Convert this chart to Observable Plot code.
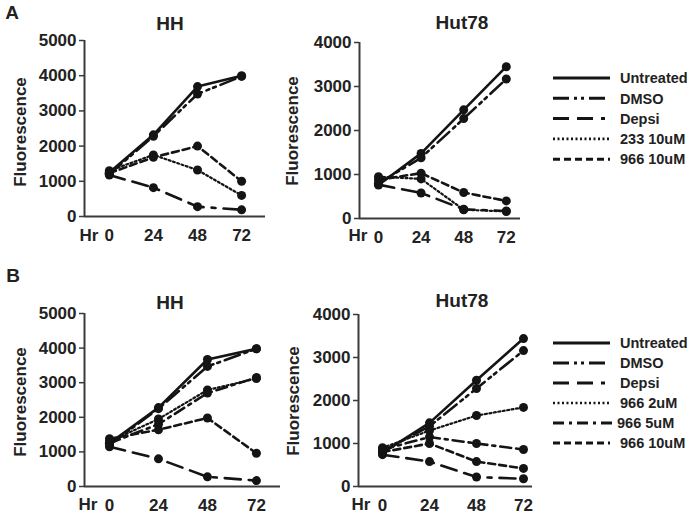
<!DOCTYPE html>
<html><head><meta charset="utf-8">
<script src="https://cdn.jsdelivr.net/npm/d3@7"></script>
<script src="https://cdn.jsdelivr.net/npm/@observablehq/plot@0.6"></script>
<style>
body{margin:0;background:#fff;}
#wrap{position:relative;width:692px;height:515px;overflow:hidden;font-family:"Liberation Sans",Arial,sans-serif;font-weight:bold;color:#222;background:#fff;}
.panel{position:absolute;}
.lbl{position:absolute;transform:translate(-50%,-50%);white-space:nowrap;font-weight:bold;line-height:1;}
</style></head><body><div id="wrap"></div>
<script>
// ---- data ----
const hours = [0, 24, 48, 72];
const hourLabels = ["0", "24", "48", "72"];
const seriesA = ["Untreated", "DMSO", "Depsi", "233 10uM", "966 10uM"];
const seriesB = ["Untreated", "DMSO", "Depsi", "966 2uM", "966 5uM", "966 10uM"];
// panel A, HH (rows follow seriesA)
const aHH = [
  [1250, 2320, 3690, 4000],
  [1200, 2280, 3480, 3980],
  [1180, 820, 280, 190],
  [1300, 1750, 1320, 600],
  [1230, 1680, 2000, 1000]
];
// panel A, Hut78
const aHut = [
  [760, 1480, 2470, 3450],
  [800, 1380, 2270, 3170],
  [770, 580, 210, 170],
  [950, 900, 200, 160],
  [880, 1030, 590, 400]
];
// panel B, HH (rows follow seriesB)
const bHH = [
  [1250, 2280, 3670, 3980],
  [1200, 2250, 3470, 3980],
  [1150, 800, 280, 170],
  [1300, 1950, 2790, 3120],
  [1250, 1800, 2700, 3150],
  [1380, 1640, 1980, 960]
];
// panel B, Hut78
const bHut = [
  [780, 1480, 2470, 3440],
  [820, 1400, 2280, 3160],
  [740, 580, 220, 180],
  [900, 1300, 1650, 1840],
  [860, 1150, 1000, 860],
  [800, 1000, 580, 420]
];

// ---- styles ----
const dashOf = {
  "Untreated": null,
  "DMSO": "16,5,3,4,3,5",
  "Depsi": "16,8,16,8,4,8",
  "233 10uM": "2,2.5",
  "966 2uM": "2,2.5",
  "966 5uM": "11,5,3,5",
  "966 10uM": "7,4"
};
const widthOf = s => (dashOf[s] === "2,2.5" ? 2.2 : 2.6);
const INK = "#141414";
const AXIS = "#3a3a3a";

const wrap = document.getElementById("wrap");

function makePanel(cfg) {
  const rows = cfg.names.flatMap((s, i) => hours.map((h, j) => ({series: s, hour: h, value: cfg.values[i][j]})));
  const marks = [
    Plot.ruleY([0], {stroke: AXIS, strokeWidth: 2}),
    Plot.ruleX([cfg.xDomain[0]], {y1: 0, y2: cfg.yMax, stroke: AXIS, strokeWidth: 2}),
    Plot.axisY({ticks: d3.range(0, cfg.yMax + 1, 1000), tickFormat: d => String(d), tickSize: 5, tickPadding: 3, label: null, stroke: AXIS, strokeWidth: 1.5, fontSize: 17, fontWeight: "bold", fill: "#222"}),
    Plot.axisX({ticks: hours, tickFormat: d => hourLabels[hours.indexOf(d)], tickSize: 0, tickPadding: cfg.xPad, label: null, fontSize: 17, fontWeight: "bold", fill: "#222"})
  ];
  cfg.names.forEach(s => {
    const opts = {x: "hour", y: "value", stroke: INK, strokeWidth: widthOf(s)};
    if (dashOf[s]) opts.strokeDasharray = dashOf[s];
    marks.push(Plot.line(rows.filter(r => r.series === s), opts));
    marks.push(Plot.dot(rows.filter(r => r.series === s), {x: "hour", y: "value", r: 4.5, fill: INK, stroke: "none"}));
  });
  const svg = Plot.plot({
    width: cfg.width, height: cfg.height,
    marginLeft: cfg.ml, marginRight: cfg.mr, marginTop: cfg.mt, marginBottom: cfg.mb,
    x: {domain: cfg.xDomain},
    y: {domain: [0, cfg.yMax]},
    style: {fontFamily: "'Liberation Sans', Arial, sans-serif", fontWeight: "bold", background: "transparent", overflow: "visible"},
    marks
  });
  const div = document.createElement("div");
  div.className = "panel";
  div.style.left = cfg.left + "px";
  div.style.top = cfg.top + "px";
  div.appendChild(svg);
  wrap.appendChild(div);
}

function label(text, x, y, size, rotate) {
  const d = document.createElement("div");
  d.className = "lbl";
  d.textContent = text;
  d.style.left = x + "px";
  d.style.top = y + "px";
  d.style.fontSize = size + "px";
  if (rotate) d.style.transform = "translate(-50%,-50%) rotate(-90deg)";
  wrap.appendChild(d);
}

makePanel({values: aHH, names: seriesA, yMax: 5000, left: 0, top: 0, width: 280, height: 250, ml: 84, mr: 15, mt: 40, mb: 34, xDomain: [-13.5, 85], xPad: 12});
makePanel({values: aHut, names: seriesA, yMax: 4000, left: 270, top: 0, width: 260, height: 250, ml: 89, mr: 10, mt: 42, mb: 32, xDomain: [-10.7, 80], xPad: 12});
makePanel({values: bHH, names: seriesB, yMax: 5000, left: 0, top: 250, width: 290, height: 265, ml: 84, mr: 10, mt: 63, mb: 29, xDomain: [-12.25, 83.8], xPad: 12});
makePanel({values: bHut, names: seriesB, yMax: 4000, left: 270, top: 250, width: 272, height: 265, ml: 88, mr: 10, mt: 64, mb: 29, xDomain: [-12.26, 76.6], xPad: 12});

label("A", 12, 12, 19);
label("B", 13, 275, 19);
label("HH", 170, 23, 19);
label("Hut78", 462, 22, 19);
label("HH", 170, 302, 19);
label("Hut78", 462, 300, 19);
label("Fluorescence", 20, 132, 17, true);
label("Fluorescence", 292, 131, 17, true);
label("Fluorescence", 20, 402, 17, true);
label("Fluorescence", 293, 401, 17, true);
label("Hr", 89, 235, 17);
label("Hr", 358, 235, 17);
label("Hr", 88, 504, 17);
label("Hr", 361, 504, 17);

// ---- legends ----
function legend(names, y0, step) {
  const svg = d3.select(wrap).append("svg")
    .style("position", "absolute").style("left", "540px").style("top", "0px")
    .attr("width", 152).attr("height", 515);
  names.forEach((s, i) => {
    const y = y0 + i * step;
    const ln = svg.append("line").attr("x1", 13).attr("x2", s === "966 5uM" ? 76 : 70)
      .attr("y1", y).attr("y2", y).attr("stroke", INK).attr("stroke-width", widthOf(s) + 0.4);
    if (dashOf[s]) ln.attr("stroke-dasharray", dashOf[s]);
    svg.append("text").attr("x", s === "966 5uM" ? 77 : 80).attr("y", y).attr("dy", "0.36em")
      .attr("font-family", "'Liberation Sans', Arial, sans-serif").attr("font-weight", "bold")
      .attr("font-size", 14.5).attr("fill", "#222").text(s);
  });
}
legend(seriesA, 78, 20.3);
legend(seriesB, 343, 20);
</script></body></html>
